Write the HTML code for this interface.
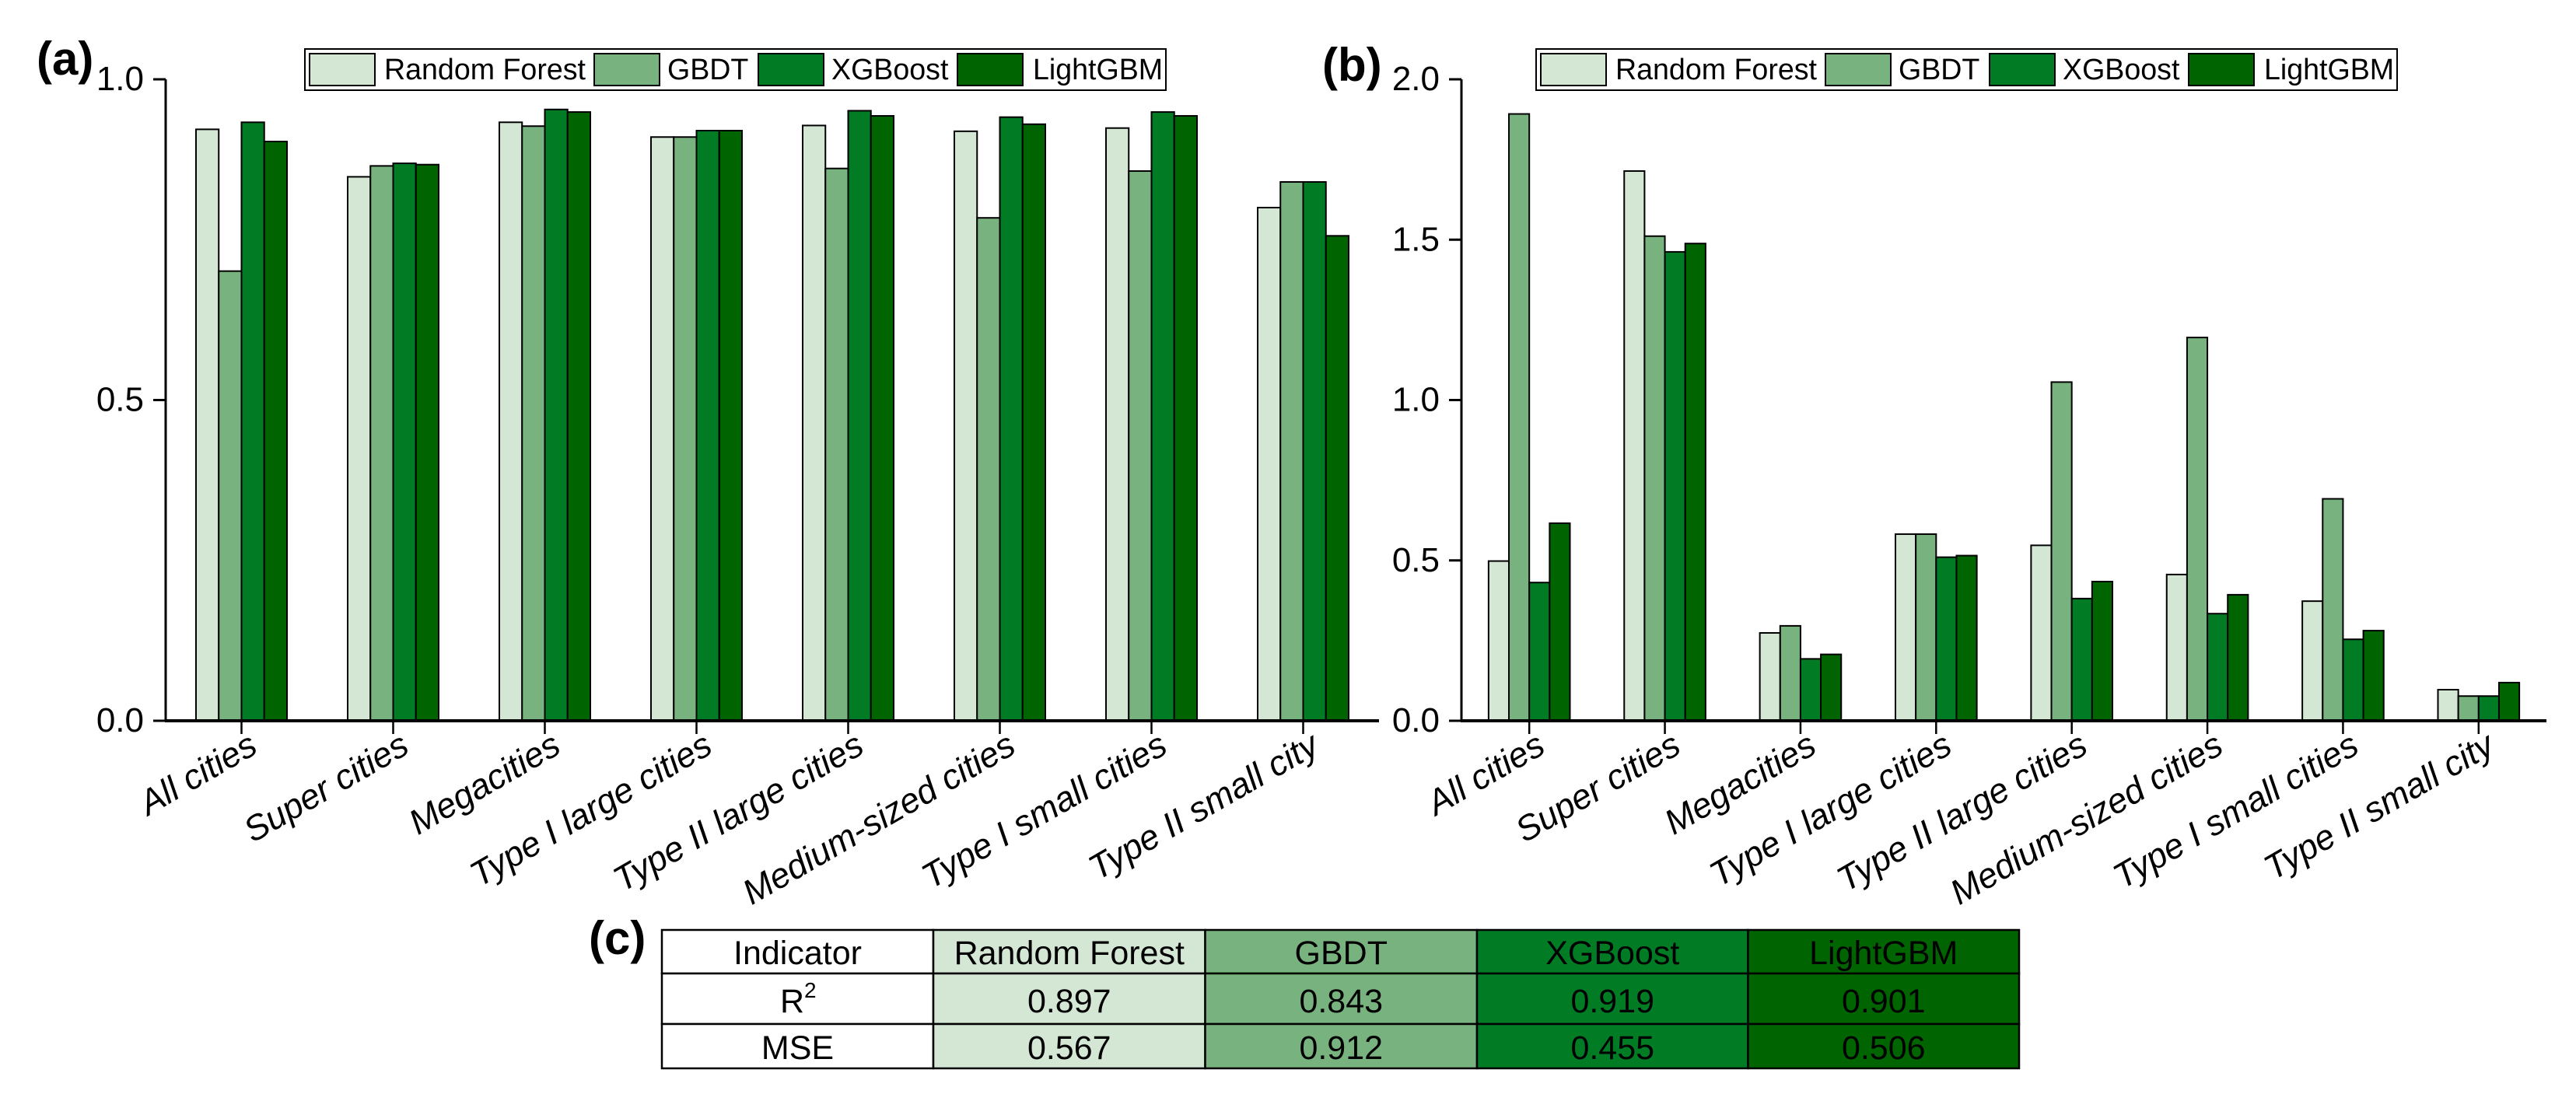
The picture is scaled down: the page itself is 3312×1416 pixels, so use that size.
<!DOCTYPE html>
<html lang="en">
<head>
<meta charset="utf-8">
<title>Model comparison by city class</title>
<style>
html,body{margin:0;padding:0;background:#fff;}
svg{display:block;font-family:"Liberation Sans",Arial,sans-serif;}
</style>
</head>
<body>
<svg id="figure" xmlns="http://www.w3.org/2000/svg" width="3312" height="1416" viewBox="0 0 3312 1416">
  <rect x="0" y="0" width="3312" height="1416" fill="#ffffff"/>
  <text x="47" y="96" font-size="60" font-weight="700">(a)</text>
  <text x="1700" y="104" font-size="60" font-weight="700">(b)</text>
  <text x="757" y="1227" font-size="60" font-weight="700">(c)</text>
  <g id="panel-a"></g>
  <g id="panel-b"></g>
  <g id="panel-c"></g>
</svg>
<script>
const categories = ["All cities","Super cities","Megacities","Type I large cities","Type II large cities","Medium-sized cities","Type I small cities","Type II small city"];
const seriesNames = ["Random Forest","GBDT","XGBoost","LightGBM"];
const seriesColors = ["#d4e7d5","#78b27e","#017b24","#006400"];

const r2RandomForest = [0.922,0.848,0.933,0.910,0.928,0.919,0.924,0.800];
const r2Gbdt = [0.701,0.865,0.927,0.910,0.861,0.784,0.857,0.840];
const r2Xgboost = [0.933,0.869,0.953,0.920,0.951,0.941,0.949,0.840];
const r2Lightgbm = [0.903,0.867,0.949,0.920,0.943,0.930,0.943,0.756];
const r2Ticks = [0,0.5,1];
const r2TickLabels = ["0.0","0.5","1.0"];

const mseRandomForest = [0.498,1.714,0.274,0.582,0.547,0.456,0.373,0.097];
const mseGbdt = [1.892,1.511,0.296,0.582,1.056,1.195,0.692,0.077];
const mseXgboost = [0.431,1.462,0.193,0.510,0.381,0.334,0.254,0.077];
const mseLightgbm = [0.616,1.488,0.207,0.515,0.434,0.393,0.281,0.119];
const mseTicks = [0,0.5,1,1.5,2];
const mseTickLabels = ["0.0","0.5","1.0","1.5","2.0"];

const tableHeaders = ["Indicator","Random Forest","GBDT","XGBoost","LightGBM"];
const tableR2 = ["0.897","0.843","0.919","0.901"];
const tableMse = ["0.567","0.912","0.455","0.506"];

const NS = "http://www.w3.org/2000/svg";
function make(parent, tag, attrs, txt) {
  const el = document.createElementNS(NS, tag);
  for (const k in attrs) el.setAttribute(k, attrs[k]);
  if (txt !== undefined) el.textContent = txt;
  parent.appendChild(el);
  return el;
}

function drawChart(opts) {
  const g = document.getElementById(opts.id);
  const band = (opts.right - opts.left) / categories.length;
  const barW = band * 0.6 / opts.series.length;
  const xCenter = i => opts.left + band * (i + 0.5);
  const yScale = v => opts.bottom - (v / opts.max) * (opts.bottom - opts.top);

  opts.series.forEach((vals, s) => {
    vals.forEach((v, i) => {
      const x = xCenter(i) - barW * opts.series.length / 2 + barW * s;
      const y = yScale(v);
      const bar = make(g, "rect", {x: x, y: y, width: barW, height: opts.bottom - y, fill: seriesColors[s], stroke: "#000", "stroke-width": 2});
      
      
    });
  });

  const yAxis = make(g, "line", {x1: opts.left, x2: opts.left, y1: opts.top, y2: opts.bottom, stroke: "#000", "stroke-width": 3});
  
  
  const xAxis = make(g, "line", {x1: opts.left - 1, x2: opts.right, y1: opts.bottom, y2: opts.bottom, stroke: "#000", "stroke-width": 4});
  
  

  opts.ticks.forEach((t, i) => {
    const y = yScale(t);
    const tick = make(g, "line", {x1: opts.left - 16, x2: opts.left, y1: y, y2: y, stroke: "#000", "stroke-width": 3});
    
    
    const lab = make(g, "text", {x: opts.left - 28, y: y + 14, "text-anchor": "end", "font-size": 44}, opts.tickLabels[i]);
    
    
  });

  categories.forEach((c, i) => {
    const x = xCenter(i);
    const tick = make(g, "line", {x1: x, x2: x, y1: opts.bottom, y2: opts.bottom + 17, stroke: "#000", "stroke-width": 2.5});
    
    
    const lx = x + 23, ly = opts.bottom + 40;
    const lab = make(g, "text", {x: lx, y: ly, "text-anchor": "end", "font-size": 45, "font-style": "italic", transform: "rotate(-30 " + lx + " " + ly + ")"}, c);
    
    
  });

  const lg = make(g, "g", {});
  
  
  const ox = opts.legendX;
  make(lg, "rect", {x: ox, y: 63, width: 1107, height: 53, fill: "#fff", stroke: "#000", "stroke-width": 2});
  const swatchOffsets = [6, 372, 583, 839];
  const textOffsets = [102, 466, 677, 936];
  seriesNames.forEach((n, s) => {
    const sw = make(lg, "rect", {x: ox + swatchOffsets[s], y: 69, width: 84, height: 41, fill: seriesColors[s], stroke: "#000", "stroke-width": 2});
    
    
    const t = make(lg, "text", {x: ox + textOffsets[s], y: 102, "font-size": 37.6}, n);
    
    
  });
}

drawChart({id: "panel-a", left: 213, right: 1773, top: 102, bottom: 927, max: 1,
  series: [r2RandomForest, r2Gbdt, r2Xgboost, r2Lightgbm], ticks: r2Ticks, tickLabels: r2TickLabels, legendX: 392});
drawChart({id: "panel-b", left: 1879, right: 3274, top: 102, bottom: 927, max: 2,
  series: [mseRandomForest, mseGbdt, mseXgboost, mseLightgbm], ticks: mseTicks, tickLabels: mseTickLabels, legendX: 1975});

(function () {
  const g = document.getElementById("panel-c");
  const colX = [851, 1200, 1549.5, 1899, 2247.5, 2596];
  const rowY = [1196, 1252, 1317, 1374];
  const fills = ["#ffffff"].concat(seriesColors);
  const rows = [
    {base: 1240, cells: tableHeaders},
    {base: 1302, cells: ["R"].concat(tableR2)},
    {base: 1362, cells: ["MSE"].concat(tableMse)}
  ];
  rows.forEach((row, r) => {
    row.cells.forEach((c, i) => {
      const cell = make(g, "rect", {x: colX[i], y: rowY[r], width: colX[i + 1] - colX[i], height: rowY[r + 1] - rowY[r], fill: fills[i], stroke: "#000", "stroke-width": 2.5});
      
      
    });
  });
  rows.forEach((row, r) => {
    row.cells.forEach((c, i) => {
      const cx = (colX[i] + colX[i + 1]) / 2;
      const t = make(g, "text", {x: r === 1 && i === 0 ? cx - 7 : cx, y: row.base, "text-anchor": "middle", "font-size": 43}, c);
      
      
    });
  });
  const sup = make(g, "text", {x: 1034, y: 1283, "font-size": 28}, "2");
  
  
})();
</script>
</body>
</html>
